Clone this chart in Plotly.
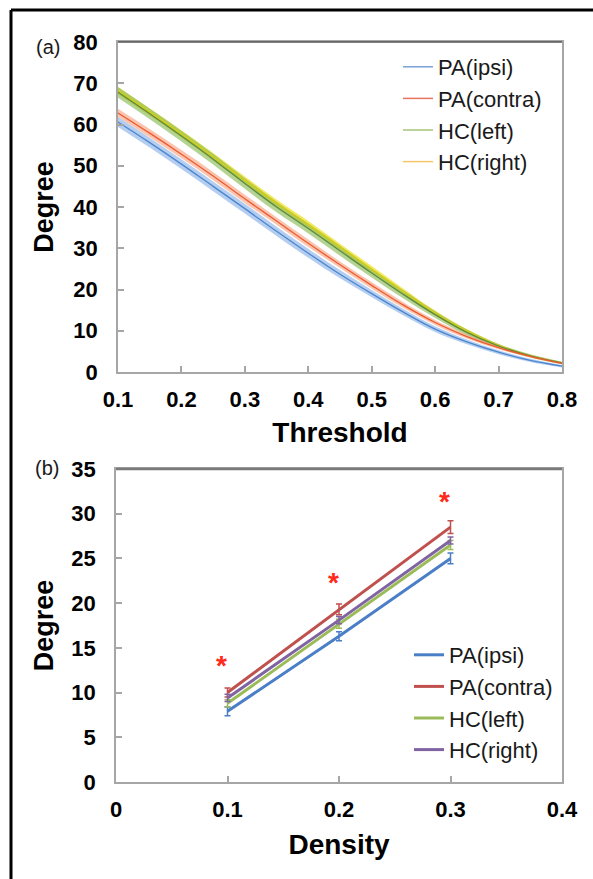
import plotly.graph_objects as go

# ---------------- data: panel (a) ----------------
threshold = [0.10, 0.15, 0.20, 0.25, 0.30, 0.35, 0.40, 0.45, 0.50, 0.55, 0.60, 0.65, 0.70, 0.75, 0.80]
pa_ipsi_a = [60.6, 55.6, 50.4, 45.0, 39.6, 34.1, 28.8, 23.7, 19.0, 14.5, 10.4, 7.3, 4.8, 2.8, 1.4]
pa_contra_a = [62.8, 57.9, 52.8, 47.5, 42.0, 36.6, 31.2, 26.0, 21.0, 16.2, 12.0, 8.6, 5.9, 3.8, 2.1]
hc_left_a = [67.8, 62.6, 57.2, 51.6, 45.7, 40.0, 34.8, 29.4, 24.0, 18.8, 13.9, 9.6, 6.3, 3.9, 2.2]
hc_right_a = [68.2, 63.0, 57.7, 52.2, 46.5, 40.9, 35.7, 30.3, 24.9, 19.5, 14.3, 9.9, 6.4, 3.9, 2.2]
pa_ipsi_se = [1.2, 1.2, 1.2, 1.2, 1.2, 1.1, 1.1, 1.0, 0.9, 0.8, 0.7, 0.6, 0.5, 0.4, 0.3]
pa_contra_se = [1.0, 1.0, 1.0, 1.0, 1.0, 0.9, 0.9, 0.8, 0.8, 0.7, 0.6, 0.5, 0.4, 0.3, 0.3]
hc_left_se = [1.3, 1.3, 1.3, 1.3, 1.3, 1.3, 1.2, 1.2, 1.1, 1.0, 0.8, 0.7, 0.5, 0.4, 0.3]
hc_right_se = [0.9, 0.9, 0.9, 0.9, 0.9, 0.9, 0.9, 0.8, 0.8, 0.7, 0.6, 0.5, 0.4, 0.3, 0.2]

# ---------------- data: panel (b) ----------------
density = [0.1, 0.2, 0.3]
pa_ipsi_b = [7.9, 16.3, 25.0]
pa_contra_b = [10.0, 19.3, 28.5]
hc_left_b = [8.8, 17.7, 26.5]
hc_right_b = [9.4, 18.1, 27.0]
pa_ipsi_err = [0.5, 0.5, 0.6]
pa_contra_err = [0.5, 0.6, 0.7]
hc_left_err = [0.4, 0.5, 0.5]
hc_right_err = [0.4, 0.4, 0.4]
star_x = [0.1, 0.2, 0.3]
star_y = [13.4, 22.6, 31.7]

names = ["PA(ipsi)", "PA(contra)", "HC(left)", "HC(right)"]

W, H = 593, 879
FONT = "Liberation Sans, Arial, Helvetica, sans-serif"

fig = go.Figure()

# ---- panel (a): bands then centre lines ----
series_a = [
    (pa_ipsi_a, pa_ipsi_se, "rgba(120,165,225,0.55)", "#4a86d0"),
    (pa_contra_a, pa_contra_se, "rgba(246,150,112,0.55)", "#ee5a2e"),
    (hc_left_a, hc_left_se, "rgba(140,187,90,0.65)", "#5b8a3c"),
    (hc_right_a, hc_right_se, "rgba(236,226,40,0.75)", "#d8cc10"),
]
legend_cols_a = ["#7ba0d8", "#e8735f", "#a6c67a", "#f6c66a"]

order = [3, 2, 0, 1]
for i in order:
    vals, se, band, _ = series_a[i]
    lo = [v - s for v, s in zip(vals, se)]
    hi = [v + s for v, s in zip(vals, se)]
    fig.add_trace(go.Scatter(x=threshold, y=lo, mode="lines", line=dict(width=0, shape="spline"),
                             showlegend=False, hoverinfo="skip", xaxis="x", yaxis="y"))
    fig.add_trace(go.Scatter(x=threshold, y=hi, mode="lines", line=dict(width=0, shape="spline"),
                             fill="tonexty", fillcolor=band, showlegend=False, hoverinfo="skip",
                             xaxis="x", yaxis="y"))
for i in order:
    vals, se, band, col = series_a[i]
    fig.add_trace(go.Scatter(x=threshold, y=vals, mode="lines", line=dict(width=1.3, color=col, shape="spline"),
                             showlegend=False, name=names[i], xaxis="x", yaxis="y"))
# legend entries for panel (a)
for i in range(4):
    fig.add_trace(go.Scatter(x=[None], y=[None], mode="lines", name=names[i],
                             line=dict(width=1.5, color=legend_cols_a[i]),
                             legend="legend", xaxis="x", yaxis="y"))

# ---- panel (b) ----
series_b = [
    (pa_ipsi_b, pa_ipsi_err, "#4a7fc8"),
    (pa_contra_b, pa_contra_err, "#c0504d"),
    (hc_left_b, hc_left_err, "#9bbb59"),
    (hc_right_b, hc_right_err, "#8064a2"),
]
for i, (vals, err, col) in enumerate(series_b):
    fig.add_trace(go.Scatter(x=density, y=vals, mode="lines", name=names[i],
                             line=dict(width=3, color=col),
                             error_y=dict(type="data", array=err, color=col, thickness=1.5, width=3),
                             legend="legend2", xaxis="x2", yaxis="y2"))

for sx, sy in zip(star_x, star_y):
    fig.add_annotation(x=sx, y=sy, xref="x2", yref="y2", text="<b>*</b>", showarrow=False,
                       xshift=-6, yshift=-3, font=dict(family=FONT, size=28, color="#ff2a1a"))

axis_common = dict(showline=True, linecolor="#a6a6a6", linewidth=1.5, mirror=True,
                   ticks="inside", ticklen=6, tickcolor="#a6a6a6", tickwidth=1.5,
                   showgrid=False, zeroline=False, automargin=False,
                   tickfont=dict(family=FONT, size=22, color="black", weight="bold"))
title_font = dict(family=FONT, size=28, color="black", weight="bold")

fig.update_layout(
    width=W, height=H, autosize=False,
    margin=dict(l=0, r=0, t=0, b=0),
    paper_bgcolor="white", plot_bgcolor="white",
    font=dict(family=FONT, color="black"),
    xaxis=dict(axis_common, domain=[118 / W, 562 / W], range=[0.1, 0.8], dtick=0.1, tick0=0.1,
               tickformat=".1f", anchor="y", ticklabelstandoff=7,
               title=dict(text="Threshold", font=title_font, standoff=11)),
    yaxis=dict(axis_common, domain=[1 - 372 / H, 1 - 42 / H], range=[0, 80], dtick=10, anchor="x",
               ticklabelstandoff=14,
               title=dict(text="Degree", font=dict(title_font, size=27), standoff=12)),
    xaxis2=dict(axis_common, domain=[116 / W, 562 / W], range=[0, 0.4], dtick=0.1, tick0=0,
                anchor="y2", ticklabelstandoff=7,
                title=dict(text="Density", font=title_font, standoff=13)),
    yaxis2=dict(axis_common, domain=[1 - 782 / H, 1 - 469 / H], range=[0, 35], dtick=5, anchor="x2",
                ticklabelstandoff=14,
                title=dict(text="Degree", font=dict(title_font, size=27), standoff=10)),
    legend=dict(x=398 / W, y=1 - 46 / H, xanchor="left", yanchor="top", bgcolor="rgba(0,0,0,0)",
                traceorder="normal",
                font=dict(family=FONT, size=22, color="#1a1a1a"), itemwidth=30),
    legend2=dict(x=409 / W, y=1 - 634 / H, xanchor="left", yanchor="top", bgcolor="rgba(0,0,0,0)",
                 traceorder="normal",
                 font=dict(family=FONT, size=22, color="#1a1a1a"), itemwidth=30),
)

# panel labels
fig.add_annotation(x=48 / W, y=1 - 47 / H, xref="paper", yref="paper", text="(a)", showarrow=False,
                   xanchor="center", yanchor="middle",
                   font=dict(family=FONT, size=20, color="#1a1a1a"))
fig.add_annotation(x=47 / W, y=1 - 468 / H, xref="paper", yref="paper", text="(b)", showarrow=False,
                   xanchor="center", yanchor="middle",
                   font=dict(family=FONT, size=20, color="#1a1a1a"))

# darker top edges of the plot frames
fig.add_shape(type="line", xref="paper", yref="paper", x0=118 / W, x1=562 / W, y0=1 - 42 / H, y1=1 - 42 / H,
              line=dict(color="#555555", width=1.5))
fig.add_shape(type="line", xref="paper", yref="paper", x0=116 / W, x1=562 / W, y0=1 - 469 / H, y1=1 - 469 / H,
              line=dict(color="#7a7a7a", width=2.5))
# outer figure border (top and left)
fig.add_shape(type="line", xref="paper", yref="paper", x0=11 / W, x1=1, y0=1 - 10 / H, y1=1 - 10 / H,
              line=dict(color="black", width=3))
fig.add_shape(type="line", xref="paper", yref="paper", x0=11 / W, x1=11 / W, y0=0, y1=1 - 10 / H,
              line=dict(color="black", width=3))

fig.write_html("out.html", config={"displayModeBar": False},
               post_script="document.body.style.margin='0';document.body.style.overflow='hidden';")
